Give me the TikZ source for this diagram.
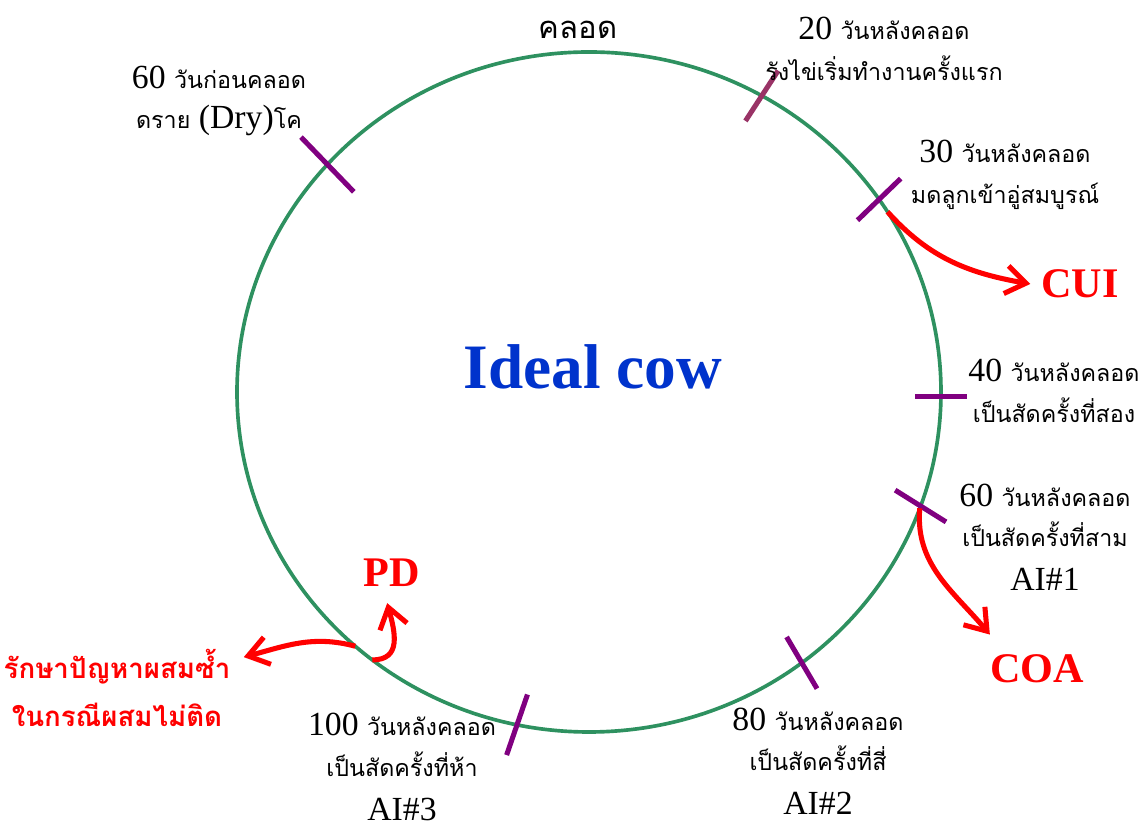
\documentclass[tikz,border=0pt]{standalone}
\usepackage{fontspec}
\setmainfont{Liberation Serif}
\newfontfamily\thai[Script=Thai,Scale=0.69]{Loma}
\usetikzlibrary{arrows.meta,calc,positioning}
\definecolor{ringgreen}{RGB}{46,145,96}
\definecolor{tickpurple}{RGB}{128,0,128}
\definecolor{tickmauve}{RGB}{153,51,102}
\definecolor{cowblue}{RGB}{0,51,204}

\begin{document}
\begin{tikzpicture}[
  ring/.style={ringgreen, line width=2.6pt},
  tickmark/.style={line width=3.6pt},
  lbl/.style={align=center, inner sep=0pt, font=\fontsize{24}{29}\selectfont},
  hot/.style={red, inner sep=0pt, font=\bfseries\fontsize{30}{36}\selectfont},
  redarrow/.style={red, line width=3.6pt, -{Straight Barb[length=5mm,width=7mm]}}
]
  \useasboundingbox (0,0) rectangle (28.475,20.725);

  % Cycle
  \coordinate (ctr) at (14.725,10.925);
  \draw[ring] (ctr) ellipse [x radius=8.8, y radius=8.5];

  % Tick marks on the cycle
  \foreach \t/\d/\h/\c in {138/134/0.95/tickpurple, 60.6/57/0.75/tickmauve,
      34.5/44/0.75/tickpurple, -0.7/0/0.65/tickpurple, -19.6/-32/0.75/tickpurple,
      -52.8/-59.5/0.75/tickpurple, -101.8/-109/0.8/tickpurple} {
    \draw[tickmark, draw=\c] ($(ctr)+(\t:8.8 and 8.5)$) ++(\d:\h) -- ++(\d+180:2*\h);
  }

  % Labels
  \node[lbl] (birth) at (14.45,19.975) {\fontsize{32}{38}\selectfont\thai คลอด};
  \node[lbl] (dry) at (5.475,18.2) {60 {\thai วันก่อนคลอด}\\{\thai ดราย} (Dry){\thai โค}};
  \node[lbl] (d20) at (22.1,19.5) {20 {\thai วันหลังคลอด}\\{\thai รังไข่เริ่มทำงานครั้งแรก}};
  \node[lbl] (d30) at (25.125,16.35) {30 {\thai วันหลังคลอด}\\{\thai มดลูกเข้าอู่สมบูรณ์}};
  \node[lbl] (d40) at (26.35,10.95) {40 {\thai วันหลังคลอด}\\{\thai เป็นสัดครั้งที่สอง}};
  \node[lbl] (d60) at (26.125,7.3) {60 {\thai วันหลังคลอด}\\{\thai เป็นสัดครั้งที่สาม}\\[2pt]AI\#1};
  \node[lbl] (d80) at (20.45,1.7) {80 {\thai วันหลังคลอด}\\{\thai เป็นสัดครั้งที่สี่}\\[2pt]AI\#2};
  \node[lbl] (d100) at (10.05,1.55) {100 {\thai วันหลังคลอด}\\{\thai เป็นสัดครั้งที่ห้า}\\[2pt]AI\#3};

  \node[cowblue, font=\bfseries\fontsize{45}{50}\selectfont] (cow) at (14.825,11.55) {Ideal cow};

  % Outcomes
  \node[hot] (CUI) at (27.0,13.625) {CUI};
  \node[hot] (COA) at (25.925,4.0) {COA};
  \node[hot] (PD) at (9.8,6.4) {PD};
  \node[hot, align=center, font=\thai\bfseries\fontsize{28.5}{34}\selectfont] (treat) at (2.925,3.525)
    {รักษาปัญหาผสมซ้ำ\\ในกรณีผสมไม่ติด};

  % Red arrows
  \coordinate (cuiS) at ($(ctr)+(32:8.8 and 8.5)$);
  \coordinate (coaS) at ($(ctr)+(-20:8.8 and 8.5)$);
  \coordinate (pdS) at ($(ctr)+(-128:8.8 and 8.5)$);
  \coordinate (trS) at ($(ctr)+(-131.6:8.8 and 8.5)$);
  \draw[redarrow] (cuiS) to[out=-48, in=170] ($(CUI.west)+(-0.27,0)$);
  \draw[redarrow] (coaS) to[out=-95, in=130] ($(COA.north west)+(0,0.5)$);
  \draw[redarrow] (pdS) to[out=0, in=-75, looseness=1.3] ($(PD.south)+(-0.12,-0.4)$);
  \draw[redarrow] (trS) to[out=165, in=15] ($(treat.north east)+(0.33,-0.2)$);
\end{tikzpicture}
\end{document}
